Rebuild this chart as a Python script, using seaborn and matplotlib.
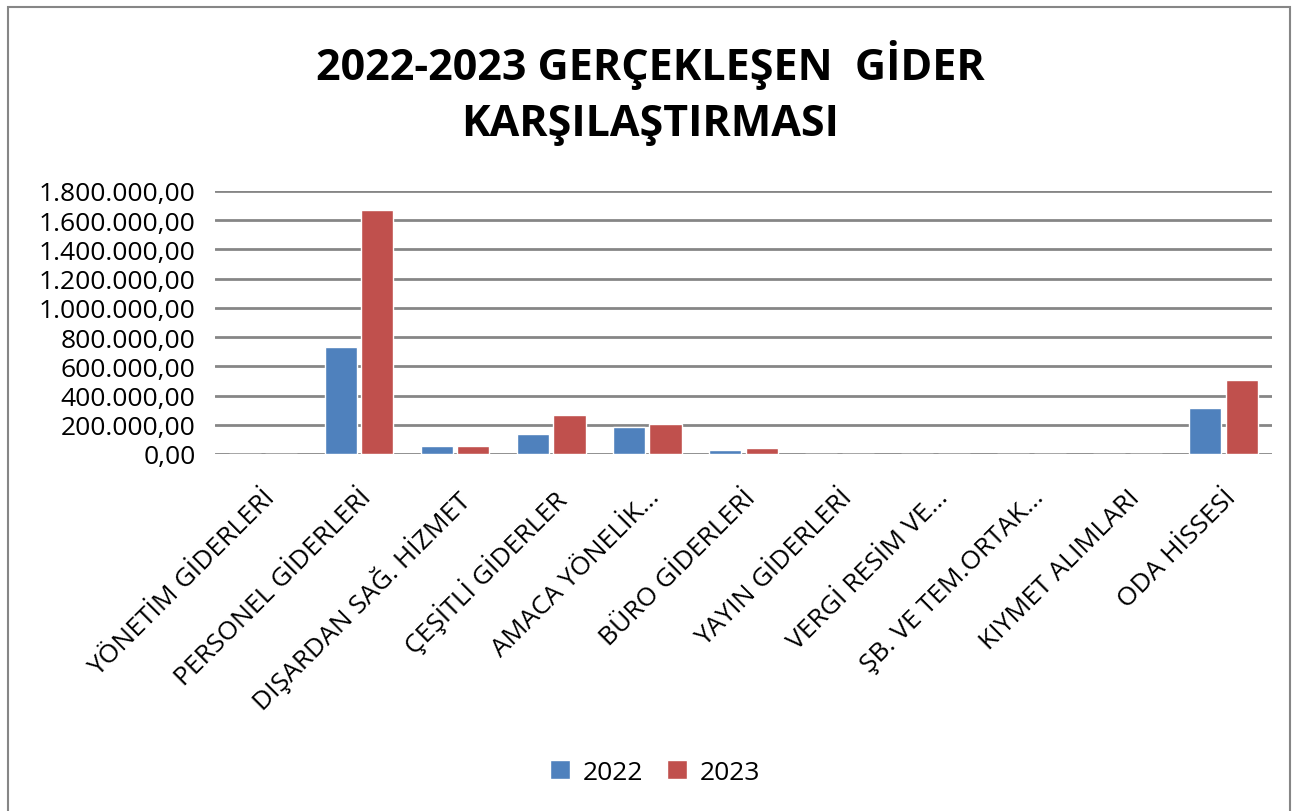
import pandas as pd
import numpy as np
import matplotlib
matplotlib.use('Agg')
import matplotlib.pyplot as plt
from matplotlib.ticker import FuncFormatter, MultipleLocator
from matplotlib.patches import Rectangle, Patch
import seaborn as sns

# Categories and values
categories = ['YÖNETİM GİDERLERİ', 'PERSONEL GİDERLERİ', 'DIŞARDAN SAĞ. HİZMET',
              'ÇEŞİTLİ GİDERLER', 'AMACA YÖNELİK...', 'BÜRO GİDERLERİ',
              'YAYIN GİDERLERİ', 'VERGİ RESİM VE...', 'ŞB. VE TEM.ORTAK...',
              'KIYMET ALIMLARI', 'ODA HİSSESİ']
values_2022 = [0, 732000, 57000, 137000, 187000, 25000, 0, 3000, 3000, 0, 313000]
values_2023 = [0, 1670000, 57000, 267000, 205000, 41000, 0, 3000, 0, 0, 506000]
years = ['2022', '2023']
colors = ['#4F81BD', '#C0504D']

data = pd.DataFrame({
    'kategori': categories * 2,
    'yil': [years[0]] * len(categories) + [years[1]] * len(categories),
    'tutar': values_2022 + values_2023,
})

sns.set_style('white')
plt.rcParams['font.family'] = ['Open Sans', 'DejaVu Sans']
plt.rcParams['text.color'] = 'black'
plt.rcParams['xtick.color'] = 'black'
plt.rcParams['ytick.color'] = 'black'

fig = plt.figure(figsize=(12.95, 8.12), dpi=100)
ax = fig.add_axes([0.166, 0.4397, 0.816, 0.3239])

sns.barplot(data=data, x='kategori', y='tutar', hue='yil', palette=colors,
            saturation=1, width=0.76, gap=0.12, ax=ax, legend=False)

def tr_format(v, pos):
    s = f"{v:,.2f}"
    return s.replace(',', 'X').replace('.', ',').replace('X', '.')

ax.set_ylim(0, 1800000)
ax.yaxis.set_major_locator(MultipleLocator(200000))
ax.yaxis.set_major_formatter(FuncFormatter(tr_format))
ax.grid(axis='y', color='#868686', linewidth=2)
ax.set_axisbelow(True)
for side in ['left', 'right', 'top', 'bottom']:
    ax.spines[side].set_visible(False)
ax.set_xlabel('')
ax.set_ylabel('')
ax.tick_params(axis='y', labelsize=19, length=0, pad=14)
ax.tick_params(axis='x', labelsize=19, length=0, pad=22)
plt.setp(ax.get_xticklabels(), rotation=45, ha='right', rotation_mode='anchor')

fig.text(0.502, 0.885, '2022-2023 GERÇEKLEŞEN  GİDER\nKARŞILAŞTIRMASI',
         ha='center', va='center', fontsize=31, fontweight='bold',
         linespacing=1.4)

# legend at the bottom
handles = [Patch(facecolor=c, label=y) for c, y in zip(colors, years)]
fig.legend(handles=handles, loc='center', bbox_to_anchor=(0.506, 0.048), ncol=2,
           frameon=False, fontsize=19, handlelength=0.75, handleheight=0.75,
           columnspacing=0.9, handletextpad=0.5)

# outer chart border
fig.add_artist(Rectangle((0.006, -0.02), 0.99, 1.01, transform=fig.transFigure,
                         fill=False, edgecolor='#868686', linewidth=1.5))

fig.savefig('out.png', dpi=100)
